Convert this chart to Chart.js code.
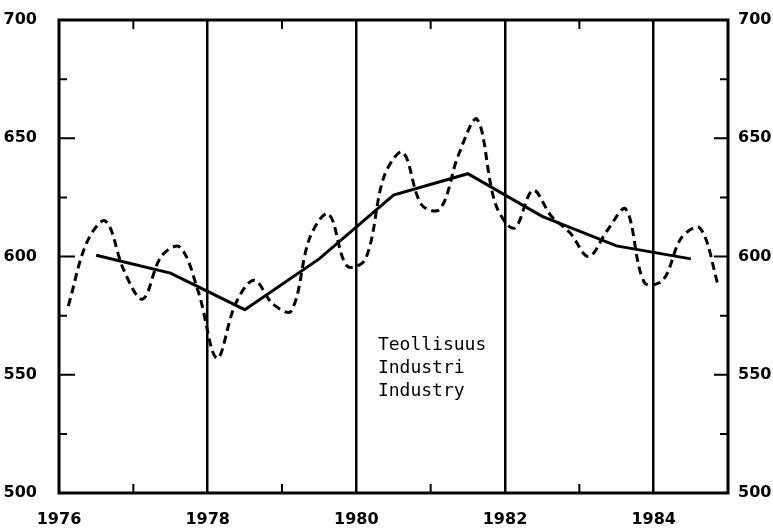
<!DOCTYPE html>
<html lang="fi">
<head>
  <meta charset="UTF-8" />
  <title>Teollisuus</title>
  <script src="https://cdn.jsdelivr.net/npm/chart.js"></script>
  <style>
    html, body { margin: 0; padding: 0; background: #fff; }
    #wrap { width: 773px; height: 531px; position: relative; }
  </style>
</head>
<body>
  <div id="wrap"><canvas id="myChart"></canvas></div>

  <script>
    // quarterly values 1976 Q1 ... 1984 Q4 (dashed line)
    const firstYear = 1976;
    const quarterly = [
      579, 606, 615, 594,   // 1976
      582, 600, 604, 585,   // 1977
      557, 580, 590, 580,   // 1978
      577, 608, 618, 596,   // 1979
      599, 634, 644, 622,   // 1980
      620, 643, 658, 622,   // 1981
      612, 628, 617, 610,   // 1982
      600, 611, 620, 589,   // 1983
      590, 608, 612, 587    // 1984
    ];
    // yearly level, plotted at mid-year (solid line)
    const years = [1976, 1977, 1978, 1979, 1980, 1981, 1982, 1983, 1984];
    const annual = [600.5, 593, 577.5, 599, 626, 635, 617, 604.5, 599];

    const yearLabels = [1976, 1978, 1980, 1982, 1984];
    const yMin = 500, yMax = 700, yStep = 50;
    const xMin = 1976, xMax = 1985;
    const labelLines = ['Teollisuus', 'Industri', 'Industry'];

    const quarterPoints = quarterly.map((v, i) => ({ x: firstYear + (i + 0.5) / 4, y: v }));
    const annualPoints = annual.map((v, i) => ({ x: years[i] + 0.5, y: v }));

    // frame, inside tick marks and the text label
    const framePlugin = {
      id: 'frame',
      afterDraw(chart) {
        const { ctx, chartArea: a, scales: { x, y } } = chart;
        ctx.save();
        ctx.strokeStyle = '#000';
        ctx.lineWidth = 3;
        ctx.strokeRect(a.left, a.top, a.right - a.left, a.bottom - a.top);

        ctx.lineWidth = 2;
        for (let v = yMin + 25; v < yMax; v += 25) {
          const py = y.getPixelForValue(v);
          const major = v % 50 === 0;
          ctx.beginPath();
          ctx.moveTo(a.left, py); ctx.lineTo(a.left + (major ? 16 : 8), py);
          ctx.moveTo(a.right, py); ctx.lineTo(a.right - (major ? 14 : 8), py);
          ctx.stroke();
        }
        for (let yr = xMin + 1; yr < xMax; yr += 2) {
          const px = x.getPixelForValue(yr);
          ctx.beginPath();
          ctx.moveTo(px, a.top); ctx.lineTo(px, a.top + 9);
          ctx.moveTo(px, a.bottom); ctx.lineTo(px, a.bottom - 9);
          ctx.stroke();
        }

        ctx.fillStyle = '#000';
        ctx.font = "18px 'DejaVu Sans Mono'";
        ctx.textBaseline = 'alphabetic';
        const tx = x.getPixelForValue(1980.29);
        const ty = y.getPixelForValue(560.5);
        labelLines.forEach((t, i) => ctx.fillText(t, tx, ty + i * 23));
        ctx.restore();
      }
    };

    const tickFont = { family: 'DejaVu Sans', weight: 'bold', size: 16 };

    // fixed axis sizes so the plot box sits where the original one does
    const fixWidth = w => s => { s.width = w; s.paddingTop = 0; s.paddingBottom = 0; };

    new Chart(document.getElementById('myChart'), {
      type: 'line',
      data: {
        datasets: [{
          data: quarterPoints,
          borderColor: '#000',
          borderWidth: 3,
          borderDash: [8, 5],
          tension: 0.35,
          pointRadius: 0,
          fill: false
        }, {
          data: annualPoints,
          borderColor: '#000',
          borderWidth: 3,
          tension: 0,
          pointRadius: 0,
          fill: false
        }]
      },
      options: {
        responsive: true,
        maintainAspectRatio: false,
        animation: false,
        layout: { padding: { top: 20, right: 0, bottom: 0, left: 0 } },
        plugins: { legend: { display: false }, tooltip: { enabled: false } },
        scales: {
          x: {
            type: 'linear',
            min: xMin,
            max: xMax,
            afterFit: s => { s.height = 38; s.paddingLeft = 0; s.paddingRight = 0; },
            border: { display: false },
            grid: {
              drawTicks: false,
              lineWidth: 2.5,
              color: c => (c.tick && c.tick.value % 2 === 0 && c.tick.value > xMin && c.tick.value < xMax) ? '#000' : 'rgba(0,0,0,0)'
            },
            ticks: {
              stepSize: 1,
              autoSkip: false,
              maxRotation: 0,
              padding: 17,
              color: '#000',
              font: tickFont,
              callback: v => yearLabels.includes(v) ? String(v) : ''
            }
          },
          y: {
            type: 'linear',
            position: 'left',
            min: yMin,
            max: yMax,
            afterFit: fixWidth(59),
            border: { display: false },
            grid: { display: false, drawTicks: false },
            ticks: { stepSize: yStep, padding: 22, color: '#000', font: tickFont }
          },
          y2: {
            type: 'linear',
            position: 'right',
            min: yMin,
            max: yMax,
            afterFit: fixWidth(45),
            border: { display: false },
            grid: { display: false, drawTicks: false },
            ticks: { stepSize: yStep, padding: 10, color: '#000', font: tickFont }
          }
        }
      },
      plugins: [framePlugin]
    });
  </script>
</body>
</html>
